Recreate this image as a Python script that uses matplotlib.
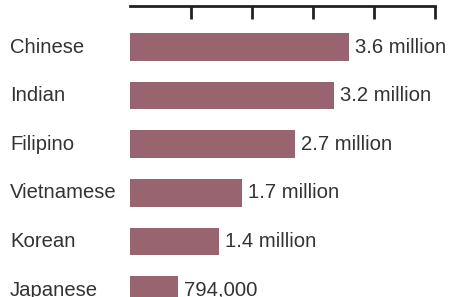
import matplotlib
matplotlib.use("Agg")
import matplotlib.pyplot as plt
import matplotlib.transforms as mtransforms

categories = ["Chinese", "Indian", "Filipino", "Vietnamese", "Korean", "Japanese"]
values = [3.59, 3.34, 2.70, 1.84, 1.46, 0.78]  # millions (bar lengths)
value_labels = ["3.6 million", "3.2 million", "2.7 million", "1.7 million", "1.4 million", "794,000"]
xticks = [1, 2, 3, 4, 5]

W, H = 453, 297
fig = plt.figure(figsize=(W / 100, H / 100), dpi=100)
ax = fig.add_axes([130 / W, 0, 305 / W, 291 / H])

bar_color = "#98646f"
text_color = "#333333"
font = "Liberation Sans"
fs = 14.6

y = list(range(len(categories)))
ax.barh(y, values, height=0.57, color=bar_color)
ax.set_xlim(0, 5)
ax.set_ylim(5.144, -0.844)

for s in ["left", "right", "bottom"]:
    ax.spines[s].set_visible(False)
ax.spines["top"].set_linewidth(2)
ax.spines["top"].set_color("#222222")
ax.xaxis.tick_top()
ax.set_xticks(xticks)
ax.tick_params(axis="x", direction="in", length=9, width=2, color="#222222", labeltop=False, labelbottom=False)
ax.set_yticks([])

trans = mtransforms.blended_transform_factory(fig.transFigure, ax.transData)
for yi, cat in zip(y, categories):
    ax.text(10 / W, yi, cat, transform=trans, ha="left", va="center",
            fontsize=fs, family=font, color=text_color, clip_on=False)

for yi, v, lab in zip(y, values, value_labels):
    ax.annotate(lab, (v, yi), xytext=(4.3, 0), textcoords="offset points",
                ha="left", va="center", fontsize=fs, family=font, color=text_color,
                annotation_clip=False)

fig.savefig("out.png", dpi=100)
